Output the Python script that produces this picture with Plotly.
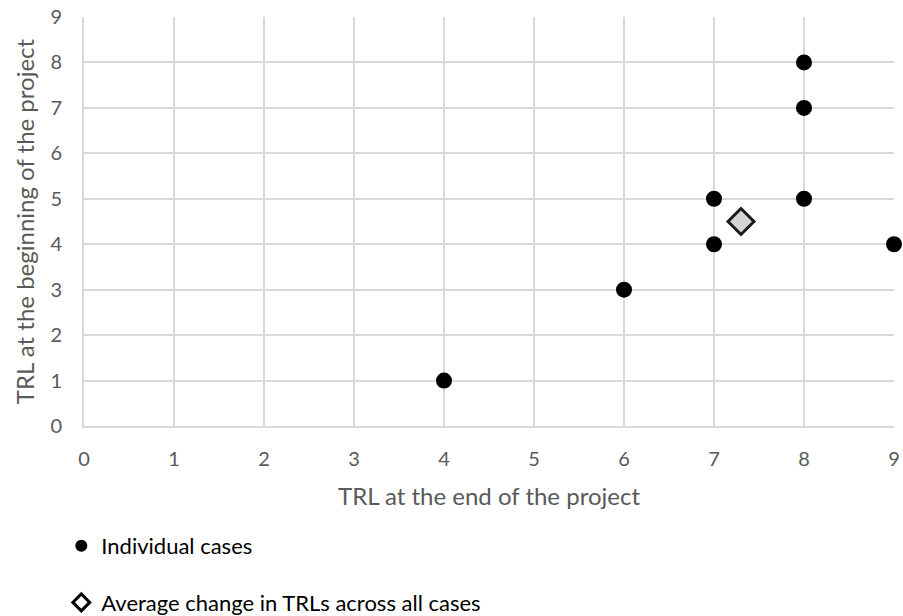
import plotly.graph_objects as go

trl_end = [4, 6, 7, 7, 8, 8, 8, 9]
trl_start = [1, 3, 4, 5, 5, 7, 8, 4]
avg_end = [7.3]
avg_start = [4.5]
ticks = list(range(0, 10))
legend_names = ["Individual cases", "Average change in TRLs across all cases"]

FONT = "Lato, Open Sans, sans-serif"

fig = go.Figure()
fig.add_trace(go.Scatter(
    x=trl_end, y=trl_start, mode="markers", name=legend_names[0],
    marker=dict(symbol="circle", size=16, color="#000000"),
    showlegend=False, cliponaxis=False,
))
fig.add_trace(go.Scatter(
    x=avg_end, y=avg_start, mode="markers", name=legend_names[1],
    marker=dict(symbol="diamond", size=20, color="#d4d4d4",
                line=dict(color="#1a1a1a", width=3)),
    showlegend=False, cliponaxis=False,
))
# legend entries (smaller symbols, as in the reference legend)
fig.add_trace(go.Scatter(
    x=[None], y=[None], mode="markers", name=legend_names[0],
    marker=dict(symbol="circle", size=12, color="#000000"), legendgroup="a",
))
fig.add_trace(go.Scatter(
    x=[None], y=[None], mode="markers", name=legend_names[1],
    marker=dict(symbol="diamond", size=13, color="#ffffff",
                line=dict(color="#000000", width=3)), legendgroup="b",
))

axis_common = dict(
    range=[0, 9], tickvals=ticks, showgrid=True, gridcolor="#d9d9d9", gridwidth=2,
    zeroline=False, showline=True, linecolor="#d9d9d9", linewidth=2,
    tickfont=dict(family=FONT, size=20, color="#595959"),
    ticks="",
)
fig.update_xaxes(**axis_common, ticklabelstandoff=14,
                 title=dict(text="TRL at the end of the project", standoff=19,
                            font=dict(family=FONT, size=24, color="#595959")))
fig.update_yaxes(**axis_common, ticklabelstandoff=16,
                 title=dict(text="TRL at the beginning of the project", standoff=9,
                            font=dict(family=FONT, size=24, color="#595959")))

fig.update_layout(
    width=903, height=616,
    margin=dict(l=84, r=9, t=17, b=190, autoexpand=False),
    plot_bgcolor="white", paper_bgcolor="white",
    showlegend=True,
    legend=dict(
        x=-0.028, xanchor="left", y=-0.242, yanchor="top",
        orientation="v", tracegroupgap=25, itemsizing="trace",
        font=dict(family=FONT, size=22, color="#000000"),
        bgcolor="rgba(0,0,0,0)",
    ),
)

fig.write_html("out.html", config={"displayModeBar": False},
               post_script="document.body.style.margin='0';")
